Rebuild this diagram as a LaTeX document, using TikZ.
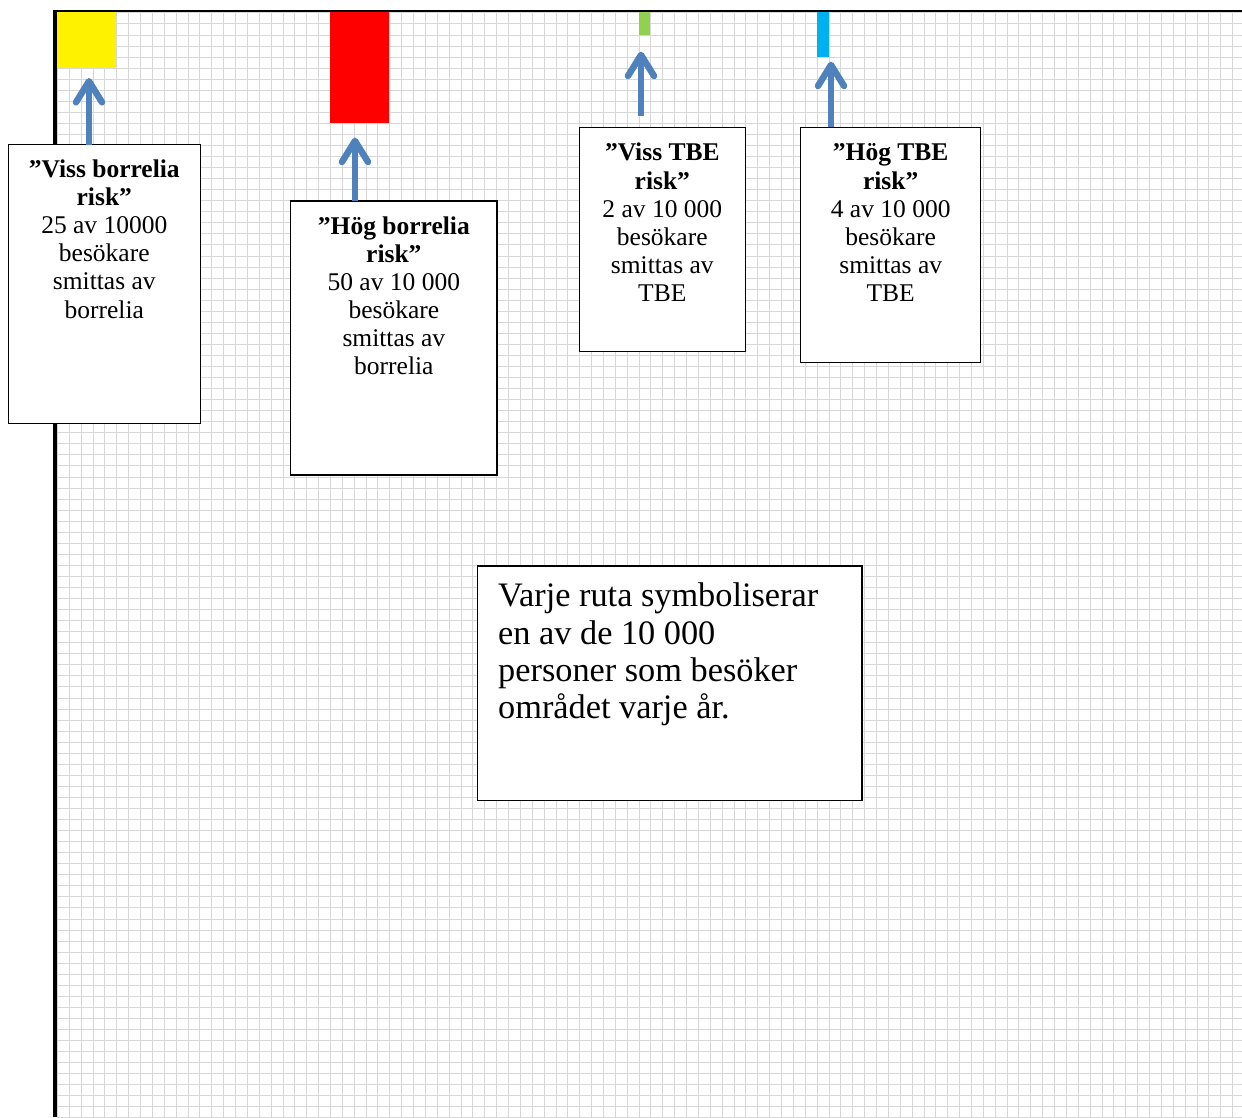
\documentclass[tikz,border=0pt]{standalone}
\usepackage{fontspec}
\setmainfont{Liberation Serif}
\usetikzlibrary{arrows.meta}
\definecolor{gridc}{RGB}{215,215,215}
\definecolor{arrowc}{RGB}{79,129,189}
\definecolor{grn}{RGB}{146,208,80}
\definecolor{cyn}{RGB}{0,176,240}
\begin{document}
\begin{tikzpicture}[x=1pt,y=-1pt,
  cell/.style={inner sep=0pt, outer sep=0pt, anchor=north west},
  infobox/.style={draw=black, line width=1.3pt, fill=white, inner sep=0pt, outer sep=0pt, anchor=north west},
  infotext/.style={anchor=north, align=center, inner sep=0pt, font=\fontsize{25.5}{28.1}\selectfont},
  gridline/.style={draw=gridc, line width=1.5pt},
  arr/.style={draw=arrowc, line width=5.5pt, -{Straight Barb[length=21pt,width=26pt,line width=6.5pt 0,round]}}]
\useasboundingbox (0,0) rectangle (1242,1117);
\begin{scope}
  \clip (0,0) rectangle (1242,1117);
  \foreach \k in {0,...,99} {
    \pgfmathsetmacro{\gx}{round(57+11.87*\k)+0.5}
    \draw[gridline] (\gx,12.4) -- (\gx,1117);
  }
  \foreach \k in {0,...,100} {
    \pgfmathsetmacro{\gy}{round(12.4+11.05*\k)+0.5}
    \draw[gridline] (57,\gy) -- (1242,\gy);
  }
\end{scope}
% coloured cells
\node[cell, fill=yellow, minimum width=59.35pt, minimum height=55.25pt] (y1) at (57,12.4) {};
\node[cell, fill=red, minimum width=59.35pt, minimum height=110.5pt] (r1) at (330.0,12.4) {};
\node[cell, fill=grn, minimum width=11.87pt, minimum height=22.1pt] (g1) at (638.6,12.4) {};
\node[cell, fill=cyn, minimum width=11.87pt, minimum height=44.2pt] (c1) at (816.7,12.4) {};
% frame
\draw[black, line width=2.4pt] (53.3,11.2) -- (1242,11.2);
\draw[black, line width=3.4pt] (55,10) -- (55,1117);
% boxes
\node[infobox, minimum width=192pt, minimum height=278.6pt] (b1) at (8.3,144.7) {};
\node[infobox, minimum width=206.3pt, minimum height=274pt] (b2) at (290.7,201) {};
\node[infobox, minimum width=166pt, minimum height=224pt] (b3) at (579.3,127.3) {};
\node[infobox, minimum width=180pt, minimum height=235pt] (b4) at (800.7,127.3) {};
\node[infobox, minimum width=384.7pt, minimum height=234.7pt] (b5) at (477.3,566) {};
% texts
\node[infotext] (t1) at ([yshift=-12.6pt]b1.north) {\rule{0pt}{20pt}\textbf{”Viss borrelia}\\\textbf{risk”}\\25 av 10000\\besökare\\smittas av\\borrelia};
\node[infotext] (t2) at ([yshift=-13pt]b2.north) {\rule{0pt}{20pt}\textbf{”Hög borrelia}\\\textbf{risk”}\\50 av 10 000\\besökare\\smittas av\\borrelia};
\node[infotext] (t3) at ([yshift=-13.4pt]b3.north) {\rule{0pt}{20pt}\textbf{”Viss TBE}\\\textbf{risk”}\\2 av 10 000\\besökare\\smittas av\\TBE};
\node[infotext] (t4) at ([yshift=-13.4pt]b4.north) {\rule{0pt}{20pt}\textbf{”Hög TBE}\\\textbf{risk”}\\4 av 10 000\\besökare\\smittas av\\TBE};
\node[anchor=north west, align=left, inner sep=0pt, font=\fontsize{34.3}{37.2}\selectfont] (t5) at ([xshift=20.7pt,yshift=-15.7pt]b5.north west) {\rule{0pt}{25pt}Varje ruta symboliserar\\en av de 10 000\\personer som besöker\\området varje år.};
% arrows
\draw[arr, shorten >=10.4pt] (b1.north -| 89,0) -- (y1.south -| 89,0);
\draw[arr, shorten >=14.8pt] (b2.north -| 355,0) -- (r1.south -| 355,0);
\draw[arr, shorten <=11.3pt, shorten >=17.2pt] (b3.north -| 641,0) -- (g1.south -| 641,0);
\draw[arr, shorten >=5.1pt] (b4.north -| 831,0) -- (c1.south -| 831,0);
\end{tikzpicture}
\end{document}
